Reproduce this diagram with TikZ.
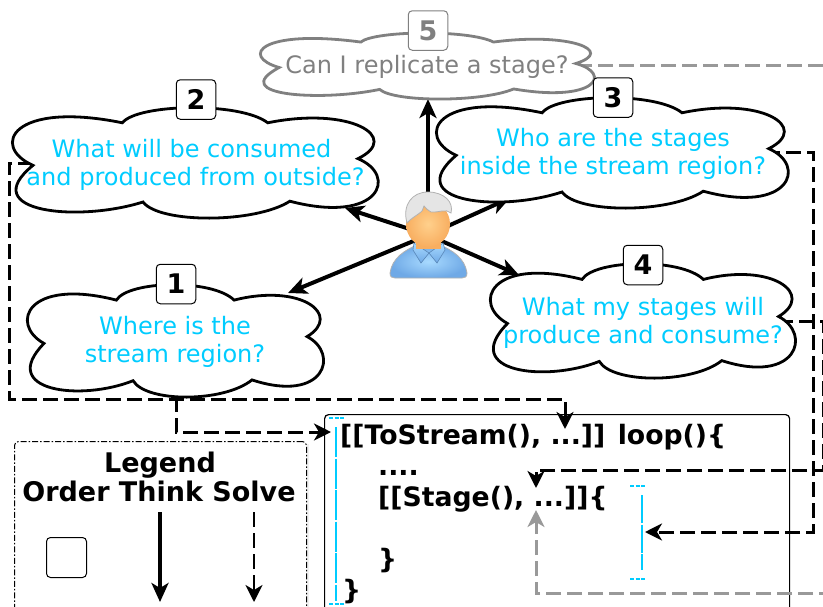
\documentclass[tikz,border=0pt]{standalone}
\usepackage{fontspec}
\setmainfont{DejaVu Sans}
\usetikzlibrary{arrows.meta}
\definecolor{qcyan}{HTML}{00CCFF}
\definecolor{qgrey}{HTML}{808080}
\definecolor{qdash}{HTML}{999999}
\definecolor{shirtin}{HTML}{A8DAFF}
\definecolor{shirtout}{HTML}{6FA9E6}
\definecolor{facein}{HTML}{FFD08C}
\definecolor{faceout}{HTML}{F8AE60}
\tikzset{
  thinktip/.style={-{Stealth[length=19pt,width=17pt,inset=5pt]},line width=4pt},
  solvetip/.style={-{Stealth[length=17pt,width=17pt,inset=5pt]},line width=3pt,dash pattern=on 15pt off 6pt},
  qtext/.style={text=qcyan,font=\fontsize{24}{28}\selectfont,align=center},
  cloudline/.style={line width=2.8pt,fill=white},
  badge/.style={draw,fill=white,rounded corners=4pt,minimum size=39.5pt,inner sep=0pt,line width=1pt,font=\fontsize{27}{30}\selectfont\bfseries},
  codetext/.style={anchor=base west,inner sep=0pt,font=\fontsize{26.7}{31}\selectfont\bfseries},
  legendtext/.style={anchor=base,inner sep=0pt,font=\fontsize{27}{30}\selectfont\bfseries},
  bracket/.style={draw=qcyan,line width=2pt},
}
\newcommand{\drawcloud}[5]{%
  \draw[cloudline,#5,shift={(#1,#2)},xscale=#3,yscale=#4]
    (.30,.15) .. controls (.34,-.02) and (.62,-.04) .. (.695,.15)
    .. controls (.92,.0) and (1.06,.28) .. (.94,.47)
    .. controls (1.05,.62) and (1.0,1.06) .. (.755,.85)
    .. controls (.66,1.05) and (.40,1.05) .. (.356,.857)
    .. controls (.18,1.04) and (-.10,.95) .. (.057,.53)
    .. controls (-.06,.36) and (-.0,-.05) .. (.30,.15) -- cycle;
}
\begin{document}
\begin{tikzpicture}[x=1pt,y=-1pt]
  \useasboundingbox (0,0) rectangle (823,606);
  \clip (0,0) rectangle (823,606);
  \coordinate (user) at (428,235);
  \coordinate (out5) at (577,65);
  \coordinate (out2) at (33,163);
  \coordinate (out1) at (176,397);
  \coordinate (out3) at (765,152);
  \coordinate (out4) at (778,321);
  \coordinate (tip5) at (428,99);
  \coordinate (tip2) at (345,208);
  \coordinate (tip3) at (510,198);
  \coordinate (tip4) at (519,275);
  \coordinate (tip1) at (288,293);
  \coordinate (looptop) at (565,429);
  \coordinate (loopside) at (331,432);
  \coordinate (stagetop) at (536,488);
  \coordinate (stagebot) at (536,510);
  \coordinate (stageside) at (645,532);

  \fill[black!6] (17,444) rectangle (309,620);
  \node[draw,fill=white,line width=1pt,dash pattern=on 6pt off 2pt on 1.5pt off 2pt,rounded corners=4pt,minimum width=292pt,minimum height=190pt,anchor=north west,inner sep=0pt] (legend) at (14,441) {};
  \node[legendtext] (legendname) at (160,472) {Legend};
  \node[legendtext] (ordername) at (66,501) {Order};
  \node[legendtext] (thinkname) at (161,501) {Think};
  \node[legendtext] (solvename) at (254,501) {Solve};
  \node[draw,rounded corners=4pt,minimum size=40pt,inner sep=0pt,line width=1pt,anchor=north west] (ordersq) at (46,537) {};
  \coordinate (thinkstart) at (160,512);
  \coordinate (thinkend) at (160,602);
  \coordinate (solvestart) at (254,512);
  \coordinate (solveend) at (254,602);
  \draw[thinktip] (thinkstart) -- (thinkend);
  \draw[solvetip,line width=2.4pt] (solvestart) -- (solveend);

  \node[draw,fill=white,rounded corners=4pt,line width=1.2pt,minimum width=465pt,minimum height=230pt,anchor=north west,inner sep=0pt] (codebox) at (324,414) {};
  \node[codetext] (loopline) at (340,444) {[[ToStream(), ...]] loop()\{};
  \node[codetext] (dotsline) at (378,475) {....};
  \node[codetext] (stageline) at (378,506) {[[Stage(), ...]]\{};
  \node[codetext] (stageclose) at (378,568) {\}};
  \node[codetext] (loopclose) at (342,599) {\}};
  \draw[bracket,dash pattern=on 4pt off 1.5pt] (329,418) -- (344,418);
  \draw[bracket,dash pattern=on 30pt off 1.5pt] (336,427) -- (336,601);
  \draw[bracket,dash pattern=on 4pt off 1.5pt] (329,604) -- (344,604);
  \draw[bracket,dash pattern=on 4pt off 1.5pt] (630,486) -- (645,486);
  \draw[bracket,dash pattern=on 28pt off 1.5pt] (642,495) -- (642,570);
  \draw[bracket,dash pattern=on 4pt off 1.5pt] (630,579) -- (645,579);

  \draw[solvetip,draw=qdash] (out5) -- (830,65) -- (830,593) -- (536,593) -- (stagebot);
  \draw[solvetip] (out2) -- (9,163) -- (9,399) -- (565,399) -- (looptop);
  \draw[solvetip] (out1) -- (176,432) -- (loopside);
  \draw[solvetip] (out3) -- (813,152) -- (813,532) -- (stageside);
  \draw[solvetip] (out4) -- (823,321) -- (823,470) -- (536,470) -- (stagetop);

  \draw[thinktip] (user) -- (tip5);
  \draw[thinktip] (user) -- (tip2);
  \draw[thinktip] (user) -- (tip3);
  \draw[thinktip] (user) -- (tip4);
  \draw[thinktip] (user) -- (tip1);

  \drawcloud{260}{32}{336}{67}{draw=qgrey}
  \drawcloud{12}{106}{368}{112}{draw=black}
  \drawcloud{436}{96}{354}{112}{draw=black}
  \drawcloud{490}{262}{307}{116}{draw=black}
  \drawcloud{27}{283}{298}{114}{draw=black}

  \node[qtext,text=qgrey] (cloud5) at (427,67) {Can I replicate a stage?};
  \node[qtext] (cloud2) at (195.5,165) {What will be consumed\rule{8pt}{0pt}\\and produced from outside?};
  \node[qtext] (cloud3) at (613,154) {Who are the stages\\inside the stream region?};
  \node[qtext] (cloud4) at (643,323) {What my stages will\\produce and consume?};
  \node[qtext] (cloud1) at (175,342) {Where is the\\stream region?};

  \node[badge,draw=qgrey,text=qgrey] (num5) at (428,30.5) {5};
  \node[badge] (num2) at (196,99.5) {2};
  \node[badge] (num3) at (613,97.5) {3};
  \node[badge] (num4) at (643,265) {4};
  \node[badge] (num1) at (176,284) {1};

  \shade[inner color=shirtin,outer color=shirtout,draw=black!30,line width=.8pt]
    (390,273) .. controls (392,258) and (405,250) .. (417,245) -- (440,245)
    .. controls (452,250) and (465,258) .. (467,273)
    .. controls (467,277) and (465,278) .. (462,278) -- (395,278)
    .. controls (392,278) and (390,277) .. (390,273) -- cycle;
  \shade[top color=shirtin,bottom color=shirtout,draw=shirtout!80!black,line width=.6pt]
    (414,243) -- (429,253) -- (421,263) -- (413,250) -- cycle;
  \shade[top color=shirtin,bottom color=shirtout,draw=shirtout!80!black,line width=.6pt]
    (443,243) -- (429,253) -- (437,263) -- (445,250) -- cycle;
  \fill[faceout] (416,238) rectangle (441,249);
  \shade[inner color=facein,outer color=faceout]
    (428,224) ellipse (22 and 23);
  \filldraw[fill=black!10,draw=black!30,line width=.8pt]
    (407,223) .. controls (402,205) and (412,192) .. (428,192)
    .. controls (444,192) and (454,202) .. (451,213)
    .. controls (446,208) and (438,213) .. (431,212)
    .. controls (428,211) and (426,208) .. (424,206)
    .. controls (424,213) and (414,215) .. (407,223) -- cycle;
\end{tikzpicture}
\end{document}
